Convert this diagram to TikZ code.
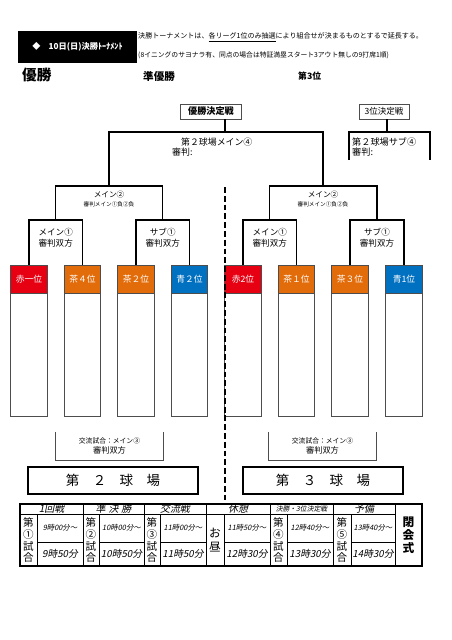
\documentclass[tikz,border=0pt]{standalone}
\usepackage{fontspec}
\setmainfont{Noto Sans CJK JP}
\newfontfamily\slantfont{Noto Sans CJK JP}[FakeSlant=0.2]
\usepackage{xcolor}
\definecolor{teamRed}{HTML}{E60012}
\definecolor{teamBrown}{HTML}{E36C0A}
\definecolor{teamBlue}{HTML}{0070C0}
\definecolor{lineGray}{HTML}{4D4D4D}
\usetikzlibrary{positioning,calc}

\begin{document}
\begin{tikzpicture}[x=0.03cm,y=-0.03cm,
 txt/.style={inner sep=0pt,align=center},
 team/.style={draw=lineGray,line width=0.7pt,minimum width=1.09cm,minimum height=0.84cm,
 inner sep=0pt,text=white,font=\fontsize{7.5}{8}\selectfont},
 slot/.style={draw=lineGray,line width=0.7pt,minimum width=1.09cm,minimum height=3.69cm,inner sep=0pt},
 bracket/.style={line width=1.1pt},
 pair/.style={txt,font=\fontsize{7.3}{9.4}\selectfont},
 semi/.style={txt,font=\fontsize{6.5}{7}\selectfont},
 semiref/.style={txt,font=\fontsize{4.8}{5}\selectfont},
 exbox/.style={txt,minimum width=3.21cm,minimum height=0.84cm,font=\fontsize{7}{8.2}\selectfont},
 stadium/.style={draw,line width=1.1pt,minimum height=0.81cm,inner sep=0pt,font=\fontsize{11.5}{12}\selectfont},
 tab/.style={line width=0.8pt},
 head/.style={txt,font=\slantfont\fontsize{8.5}{9}\selectfont},
 game/.style={txt,font=\fontsize{9}{10.2}\selectfont},
 tstart/.style={txt,font=\slantfont\fontsize{6.3}{7}\selectfont},
 tend/.style={txt,font=\slantfont\fontsize{8.3}{9}\selectfont}]
 \useasboundingbox (0,0) rectangle (452,640);

 % title and notes
 \node[fill=black,minimum width=3.54cm,minimum height=0.96cm,inner sep=0pt,text=white,
 font=\bfseries\fontsize{7}{8}\selectfont] (title) at (77.5,46.5) {◆　10日(日)決勝ﾄｰﾅﾒﾝﾄ};
 \node[txt,anchor=west,font=\fontsize{6}{7}\selectfont] (rule1) at (138,37)
 {決勝トーナメントは、\underline{各リーグ1位のみ抽選}により組合せが決まるものとするで延長する。};
 \node[txt,anchor=west,font=\fontsize{5.8}{7}\selectfont] (rule2) at (138,55)
 {(8イニングのサヨナラ有、同点の場合は特証満塁スタート3アウト無しの9打席1順)};
 \node[txt,anchor=west,font=\bfseries\fontsize{12.5}{13}\selectfont] (champ) at (22,75) {優勝};
 \node[txt,anchor=west,font=\bfseries\fontsize{9}{10}\selectfont] (runnerup) at (143,76) {準優勝};
 \node[txt,anchor=west,font=\bfseries\fontsize{7.5}{8}\selectfont] (thirdplace) at (298,76) {第3位};

 % finals
 \node[draw=lineGray,line width=0.7pt,minimum width=1.83cm,minimum height=0.45cm,inner sep=0pt,
 font=\bfseries\fontsize{7.8}{8}\selectfont] (final) at (211,111.5) {優勝決定戦};
 \node[draw=lineGray,line width=0.7pt,minimum width=1.5cm,minimum height=0.45cm,inner sep=0pt,
 font=\fontsize{7.3}{8}\selectfont] (third) at (384,111.5) {3位決定戦};
 \node[txt,anchor=west,align=left,font=\fontsize{7.6}{9.2}\selectfont] (finalref) at (172,147)
 {　第２球場メイン④\\審判:};
 \node[txt,anchor=west,align=left,font=\fontsize{7.8}{9.2}\selectfont] (thirdref) at (352,147)
 {第２球場サブ④\\審判:};

 % teams
 \node[team,fill=teamRed] (red1) at (29,279) {赤一位};
 \node[team,fill=teamBrown] (brown4) at (82.5,279) {茶４位};
 \node[team,fill=teamBrown] (brown2) at (136,279) {茶２位};
 \node[team,fill=teamBlue] (blue2) at (189.5,279) {青２位};
 \node[team,fill=teamRed] (red2) at (243,279) {赤2位};
 \node[team,fill=teamBrown] (brown1) at (296.5,279) {茶１位};
 \node[team,fill=teamBrown] (brown3) at (350,279) {茶３位};
 \node[team,fill=teamBlue] (blue1) at (404,279) {青1位};
 \node[slot,below=0pt of red1] (red1s) {};
 \node[slot,below=0pt of brown4] (brown4s) {};
 \node[slot,below=0pt of brown2] (brown2s) {};
 \node[slot,below=0pt of blue2] (blue2s) {};
 \node[slot,below=0pt of red2] (red2s) {};
 \node[slot,below=0pt of brown1] (brown1s) {};
 \node[slot,below=0pt of brown3] (brown3s) {};
 \node[slot,below=0pt of blue1] (blue1s) {};

 % bracket
 \coordinate (qa) at (55.75,220);
 \coordinate (qb) at (162.75,220);
 \coordinate (qc) at (269.75,220);
 \coordinate (qd) at (377,220);
 \coordinate (sa) at (109,186);
 \coordinate (sb) at (323,186);
 \coordinate (fa) at (225,132);
 \draw[bracket] (red1.north) |- (qa) -| (brown4.north);
 \draw[bracket] (brown2.north) |- (qb) -| (blue2.north);
 \draw[bracket] (red2.north) |- (qc) -| (brown1.north);
 \draw[bracket] (brown3.north) |- (qd) -| (blue1.north);
 \draw[bracket] (qa) |- (sa) -| (qb);
 \draw[bracket] (qc) |- (sb) -| (qd);
 \draw[bracket] (sa) |- (fa) -| (sb);
 \draw[bracket] (fa |- final.south) -- (fa);
 \coordinate (th) at (387,132);
 \coordinate (thl) at (349,160);
 \coordinate (thr) at (430,160);
 \draw[bracket] (th |- third.south) -- (th);
 \draw[bracket] (thl) |- (th) -| (thr);

 \node[pair] (qaText) at (55.75,238) {メイン①\\審判双方};
 \node[pair] (qbText) at (162.75,238) {サブ①\\審判双方};
 \node[pair] (qcText) at (269.75,238) {メイン①\\審判双方};
 \node[pair] (qdText) at (377,238) {サブ①\\審判双方};
 \node[semi] (saText) at (109,195) {メイン②};
 \node[semiref] (saRef) at (109,204) {審判メイン①負②負};
 \node[semi] (sbText) at (323,195) {メイン②};
 \node[semiref] (sbRef) at (323,204) {審判メイン①負②負};

 % exchange games and fields
 \node[exbox] (exL) at (109.5,446) {{\fontsize{5.8}{7}\selectfont 交流試合：メイン③}\\審判双方};
 \node[exbox] (exR) at (322.5,446) {{\fontsize{5.8}{7}\selectfont 交流試合：メイン③}\\審判双方};
 \draw[lineGray,line width=0.7pt] (exL.north west) |- (exL.south) -| (exL.north east);
 \draw[lineGray,line width=0.7pt] (exR.north west) |- (exR.south) -| (exR.north east);
 \node[stadium,minimum width=5.1cm] (field2) at (113,480.5) {第　２　球　場};
 \node[stadium,minimum width=4.8cm] (field3) at (323,480.5) {第　３　球　場};
 \coordinate (cutTop) at (225,187);
 \coordinate (cutBot) at (225,500);
 \draw[line width=1.1pt,dash pattern=on 5pt off 2.5pt] (cutTop) -- (cutBot);

 % schedule
 \draw[line width=1.1pt] (20,504) rectangle (422,566);
 \draw[tab] (20,514) -- (395,514);
 \draw[tab] (83,504) -- (83,566) (144,504) -- (144,566) (206,504) -- (206,566)
 (270,504) -- (270,566) (333,504) -- (333,566) (395,504) -- (395,566);
 \draw[tab] (37,514) -- (37,566) (99,514) -- (99,566) (160,514) -- (160,566)
 (224,514) -- (224,566) (287,514) -- (287,566) (351,514) -- (351,566);
 \draw[tab] (37,542) -- (83,542) (99,542) -- (144,542) (160,542) -- (206,542)
 (224,542) -- (270,542) (287,542) -- (333,542) (351,542) -- (395,542);
 \node[head] (h1) at (51.5,509) {1回戦};
 \node[head] (h2) at (113.5,509) {準\hspace{0.3em}決\hspace{0.3em}勝};
 \node[head] (h3) at (175,509) {交流戦};
 \node[head] (h4) at (238,509) {休憩};
 \node[head,font=\slantfont\fontsize{5.8}{6}\selectfont] (h5) at (301.5,509) {決勝・3位決定戦};
 \node[head] (h6) at (364,509) {予備};
 \node[game] (g1) at (28.5,540) {第\\①\\試\\合};
 \node[game] (g2) at (91,540) {第\\②\\試\\合};
 \node[game] (g3) at (152,540) {第\\③\\試\\合};
 \node[game] (g4) at (278.5,540) {第\\④\\試\\合};
 \node[game] (g5) at (342,540) {第\\⑤\\試\\合};
 \node[game,font=\fontsize{10}{12}\selectfont] (lunch) at (215,540) {お\\昼};
 \node[game,font=\bfseries\fontsize{10}{11}\selectfont] (closing) at (408.5,535) {閉\\会\\式};
 \node[tstart] (s1) at (60,528) {9時00分～};
 \node[tend] (e1) at (60,554) {9時50分};
 \node[tstart] (s2) at (121.5,528) {10時00分～};
 \node[tend] (e2) at (121.5,554) {10時50分};
 \node[tstart] (s3) at (183,528) {11時00分～};
 \node[tend] (e3) at (183,554) {11時50分};
 \node[tstart] (s4) at (247,528) {11時50分～};
 \node[tend] (e4) at (247,554) {12時30分};
 \node[tstart] (s5) at (310,528) {12時40分～};
 \node[tend] (e5) at (310,554) {13時30分};
 \node[tstart] (s6) at (373,528) {13時40分～};
 \node[tend] (e6) at (373,554) {14時30分};
\end{tikzpicture}
\end{document}
